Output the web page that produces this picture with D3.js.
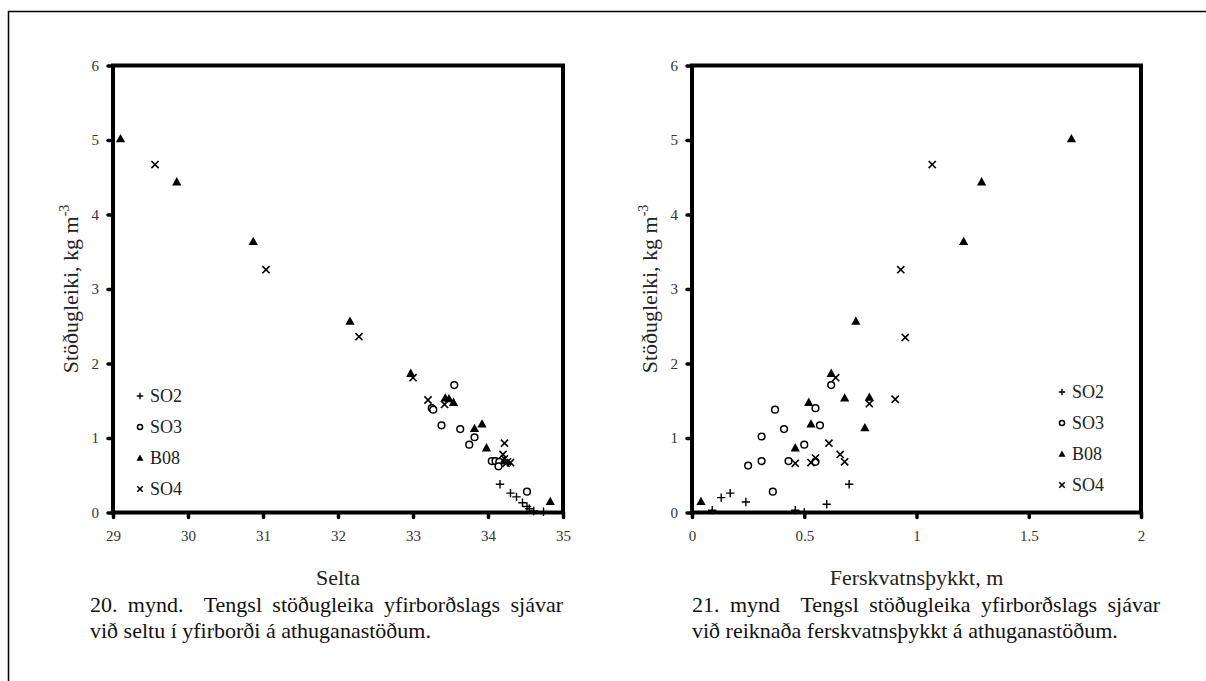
<!DOCTYPE html>
<html>
<head>
<meta charset="utf-8">
<script src="https://cdn.jsdelivr.net/npm/d3@7"></script>
<style>
  body { margin: 0; background: #fff; }
</style>
</head>
<body>
<svg id="chart" width="1206" height="681"></svg>
<script>
// ====== data: 20. mynd (selta) ======
const seltaSO2 = [[34.16,0.38],[34.30,0.26],[34.38,0.21],[34.46,0.13],[34.52,0.08],[34.55,0.05],[34.61,0.02],[34.74,0.01]];
const seltaSO3 = [[33.55,1.71],[33.25,1.40],[33.27,1.38],[33.38,1.17],[33.63,1.12],[33.82,1.01],[33.75,0.91],
                  [34.05,0.69],[34.10,0.69],[34.15,0.68],[34.14,0.62],[34.52,0.28]];
const seltaB08 = [[29.10,5.02],[29.85,4.44],[30.87,3.64],[32.16,2.57],[32.97,1.87],[33.43,1.54],[33.48,1.53],
                  [33.54,1.48],[33.82,1.13],[33.92,1.19],[33.98,0.87],[34.22,0.70],[34.83,0.15]];
const seltaSO4 = [[29.56,4.67],[31.04,3.26],[32.28,2.36],[33.00,1.81],[33.20,1.51],[33.42,1.45],[34.22,0.93],
                  [34.20,0.78],[34.22,0.72],[34.26,0.68],[34.30,0.67],[34.24,0.66]];

// ====== data: 21. mynd (ferskvatnsþykkt) ======
const ferskSO2 = [[0.09,0.03],[0.13,0.20],[0.17,0.26],[0.24,0.14],[0.46,0.03],[0.50,0.00],[0.60,0.11],[0.70,0.38]];
const ferskSO3 = [[0.25,0.63],[0.31,0.69],[0.31,1.02],[0.37,1.38],[0.36,0.28],[0.41,1.12],[0.43,0.69],
                  [0.50,0.91],[0.55,1.40],[0.57,1.17],[0.62,1.71],[0.55,0.68]];
const ferskB08 = [[0.04,0.15],[0.46,0.87],[0.52,1.48],[0.53,1.19],[0.62,1.87],[0.68,1.54],[0.77,1.14],
                  [0.79,1.55],[0.73,2.57],[1.21,3.64],[1.29,4.44],[1.69,5.02]];
const ferskSO4 = [[1.07,4.67],[0.93,3.26],[0.95,2.35],[0.64,1.81],[0.79,1.46],[0.905,1.52],[0.61,0.93],
                  [0.66,0.78],[0.68,0.68],[0.46,0.66],[0.53,0.67],[0.55,0.73]];

const seriesNames = ["SO2", "SO3", "B08", "SO4"];
const yTicks = [0, 1, 2, 3, 4, 5, 6];
const seltaTicks = [29, 30, 31, 32, 33, 34, 35];
const ferskTicks = [0, 0.5, 1, 1.5, 2];

const SERIF = "'Liberation Serif', 'Times New Roman', serif";
const svg = d3.select("#chart");

// ramma (aðeins efri og vinstri brún sést)
svg.append("path")
  .attr("d", "M8.5,681 L8.5,11.5 L1206,11.5")
  .attr("fill", "none").attr("stroke", "#000").attr("stroke-width", 1.5);

// tákn
function drawMarker(g, type, x, y, s) {
  if (type === "SO2") {
    g.append("path").attr("d", `M${x-s},${y}H${x+s}M${x},${y-s}V${y+s}`)
      .attr("stroke", "#000").attr("stroke-width", 1.4).attr("fill", "none");
  } else if (type === "SO3") {
    g.append("circle").attr("cx", x).attr("cy", y).attr("r", s * 0.8)
      .attr("stroke", "#000").attr("stroke-width", 1.5).attr("fill", "#fff");
  } else if (type === "B08") {
    const h = s * 1.1;
    g.append("path").attr("d", `M${x},${y-h}L${x+h},${y+h*0.8}L${x-h},${y+h*0.8}Z`)
      .attr("fill", "#000");
  } else {
    const k = s * 0.85;
    g.append("path").attr("d", `M${x-k},${y-k}L${x+k},${y+k}M${x+k},${y-k}L${x-k},${y+k}`)
      .attr("stroke", "#000").attr("stroke-width", 1.6).attr("fill", "none");
  }
}

function drawPlot(opt) {
  const x = d3.scaleLinear().domain(opt.xDomain).range([opt.left, opt.right]);
  const y = d3.scaleLinear().domain([0, 6]).range([512.5, 65.5]);
  const g = svg.append("g");

  // ásar
  const ax = g.append("g").attr("transform", "translate(0,512.5)")
    .call(d3.axisBottom(x).tickValues(opt.xTicks).tickSize(5).tickPadding(13).tickFormat(d => d));
  const ay = g.append("g").attr("transform", `translate(${opt.left},0)`)
    .call(d3.axisLeft(y).tickValues(yTicks).tickSize(5).tickPadding(9).tickFormat(d => d));
  [ax, ay].forEach(a => {
    a.select(".domain").remove();
    a.attr("font-family", null).attr("font-size", null);
    a.selectAll(".tick line").attr("stroke", "#000").attr("stroke-width", 3.5).attr("stroke-linecap", "round");
    a.selectAll(".tick text").attr("fill", "#333").style("font-size", "15px");
  });

  // þykkur rammi um teiknisvæði
  g.append("rect")
    .attr("x", opt.left).attr("y", 65.5)
    .attr("width", opt.right - opt.left).attr("height", 512.5 - 65.5)
    .attr("fill", "none").attr("stroke", "#000").attr("stroke-width", 4);

  // punktar
  const pts = g.append("g");
  opt.data.forEach((arr, i) => {
    arr.forEach(d => drawMarker(pts, seriesNames[i], x(d[0]), y(d[1]), 4.2));
  });

  // skýringar
  seriesNames.forEach((name, i) => {
    const ly = opt.legendY + i * 31;
    drawMarker(g, name, opt.legendX, ly, 3.2);
    g.append("text").attr("x", opt.legendX + 10).attr("y", ly + 6)
      .style("font-size", "18px").attr("fill", "#222").text(name);
  });

  // titill x-áss
  g.append("text").attr("x", (opt.left + opt.right) / 2).attr("y", 585)
    .attr("text-anchor", "middle").style("font-size", "22px").attr("fill", "#222")
    .text(opt.xTitle);

  // titill y-áss
  const yt = g.append("text")
    .attr("transform", `translate(${opt.left - 35},289) rotate(-90)`)
    .attr("text-anchor", "middle").style("font-size", "22px").attr("fill", "#222");
  yt.append("tspan").text("Stöðugleiki, kg m");
  yt.append("tspan").attr("dy", -9).style("font-size", "14px").text("-3");

  // myndatexti, fyrri lína jöfnuð að báðum jöðrum
  const c1 = g.append("text").attr("x", opt.capX).attr("y", 612)
    .attr("xml:space", "preserve").style("white-space", "pre")
    .style("font-size", "22px").attr("fill", "#111").text(opt.caption[0])
    .style("font-family", SERIF);
  const w = c1.node().getComputedTextLength();
  const gaps = (opt.caption[0].match(/ /g) || []).length;
  c1.attr("word-spacing", Math.max(0, (opt.capRight - opt.capX - w) / gaps));
  g.append("text").attr("x", opt.capX).attr("y", 638)
    .style("font-size", "22px").attr("fill", "#111").text(opt.caption[1]);

  g.selectAll("text").style("font-family", SERIF);
}

drawPlot({
  left: 113, right: 563, xDomain: [29, 35], xTicks: seltaTicks,
  data: [seltaSO2, seltaSO3, seltaB08, seltaSO4],
  legendX: 140, legendY: 396,
  xTitle: "Selta", capX: 90, capRight: 563,
  caption: ["20. mynd.  Tengsl stöðugleika yfirborðslags sjávar", "við seltu í yfirborði á athuganastöðum."]
});

drawPlot({
  left: 692, right: 1141, xDomain: [0, 2], xTicks: ferskTicks,
  data: [ferskSO2, ferskSO3, ferskB08, ferskSO4],
  legendX: 1062, legendY: 392,
  xTitle: "Ferskvatnsþykkt, m", capX: 692, capRight: 1160,
  caption: ["21. mynd  Tengsl stöðugleika yfirborðslags sjávar", "við reiknaða ferskvatnsþykkt á athuganastöðum."]
});
</script>
</body>
</html>
